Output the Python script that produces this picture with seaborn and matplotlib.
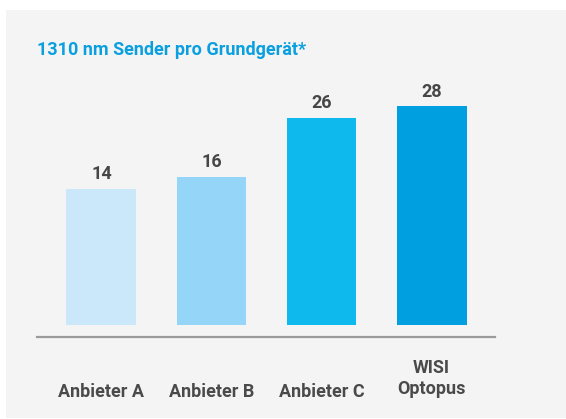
import matplotlib
matplotlib.use("Agg")
import matplotlib.pyplot as plt
import matplotlib.transforms as mtransforms
import seaborn as sns
import pandas as pd
from matplotlib.patches import Rectangle

# Data
categories = ["Anbieter A", "Anbieter B", "Anbieter C", "WISI\nOptopus"]
values = [14, 16, 26, 28]
colors = ["#cae8f9", "#95d5f7", "#0db9ed", "#00a0e0"]
title = "1310 nm Sender pro Grundgerät*"

BASE = -9.06  # visual baseline of the bars in value units

sns.set_theme(style="white")
plt.rcParams["font.family"] = ["Roboto", "DejaVu Sans"]

W, H = 566, 419
fig = plt.figure(figsize=(W / 100, H / 100), dpi=100)
fig.patch.set_facecolor("white")
fig.patches.append(Rectangle((6 / W, 1 / H), 1, (418 - 10) / H, transform=fig.transFigure,
                             facecolor="#f4f4f4", edgecolor="none", zorder=-5))

ax = fig.add_axes([37 / W, (H - 337) / H, (495 - 37) / W, (337 - 60) / H])
ax.set_facecolor("none")
ax.set_zorder(2)

df = pd.DataFrame({"cat": categories, "val": values})
df["height"] = df["val"] - BASE
sns.barplot(data=df, x="cat", y="height", hue="cat", palette=colors, legend=False,
            width=0.636, bottom=BASE, ax=ax, saturation=1, linewidth=0)

for cont, v in zip(ax.containers, values):
    ax.bar_label(cont, labels=[str(v)], padding=4, fontsize=13, fontweight="bold",
                 color="#464646")

ax.set_xlim(-0.586, 3.577)
ax.set_ylim(-11.10, 35.83)
ax.set_xlabel("")
ax.set_ylabel("")
ax.set_yticks([])
for s in ["top", "left", "right"]:
    ax.spines[s].set_visible(False)
ax.spines["bottom"].set_color("#9b9b9b")
ax.spines["bottom"].set_linewidth(1.6)
ax.tick_params(axis="x", length=0, pad=43)
for lab in ax.get_xticklabels():
    lab.set_fontsize(13)
    lab.set_fontweight("bold")
    lab.set_color("#4a4a4a")
    lab.set_va("baseline")
    lab.set_linespacing(1.22)
    if "\n" in lab.get_text():
        lab.set_transform(lab.get_transform() +
                          mtransforms.ScaledTranslation(0, 3 / 100, fig.dpi_scale_trans))

fig.text(37 / W, (H - 55) / H, title, fontsize=13, fontweight="bold", color="#0aa0e0",
         va="baseline", ha="left", zorder=3)

fig.savefig("out.png", dpi=100, facecolor="white")
